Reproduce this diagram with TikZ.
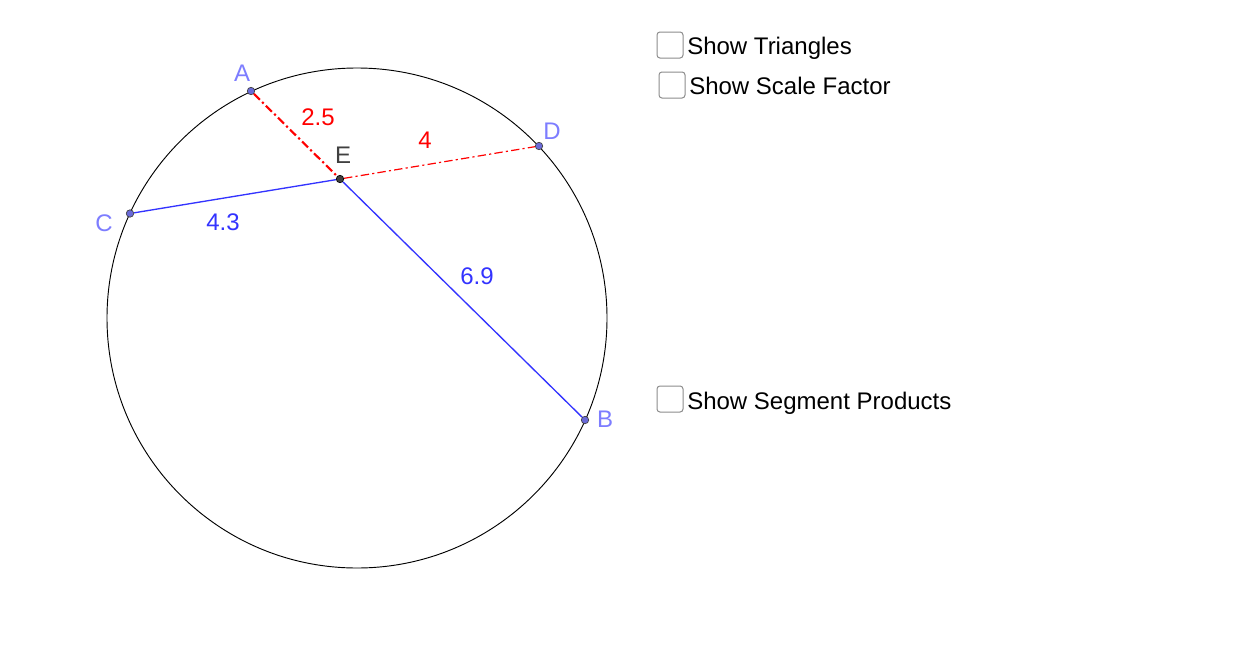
\documentclass[tikz,border=0pt]{standalone}
\usepackage{fontspec}
\setmainfont{Liberation Sans}
\usetikzlibrary{positioning}
\definecolor{ptblue}{HTML}{7D7DFF}
\definecolor{ptfill}{HTML}{6A6AD8}
\definecolor{segblue}{HTML}{3333FF}
\definecolor{ptdark}{HTML}{404040}
\definecolor{boxgray}{HTML}{8C8C8C}
\newcommand{\labelsize}{\fontsize{18}{20}\selectfont}
\tikzset{
  pt/.style={circle,draw=ptdark,line width=0.5pt,fill=ptfill,inner sep=0pt,minimum size=5.6pt},
  ptname/.style={text=ptblue,font=\labelsize,inner sep=0pt},
  seglabel/.style={font=\labelsize,inner sep=0pt},
  chkbox/.style={draw=boxgray,line width=0.75pt,rounded corners=2.2pt,minimum size=19.5pt,inner sep=0pt},
  chklabel/.style={font=\labelsize,inner sep=0pt,anchor=base west},
  bluesegment/.style={segblue,line width=1pt},
  redsegment/.style={red,line width=0.9pt,dash pattern=on 6.3pt off 2.4pt on 1.6pt off 2.4pt}
}
\begin{document}
\begin{tikzpicture}[x=0.75pt,y=-0.75pt]
  \useasboundingbox (0,0) rectangle (1241,671);
  \node[circle,draw=black,line width=0.7pt,minimum size=375pt,inner sep=0pt] (circ) at (357,318) {};

  \node[pt] (A) at (251,91) {};
  \node[pt] (B) at (585,420) {};
  \node[pt] (C) at (130,213.5) {};
  \node[pt] (D) at (539,146) {};
  \node[pt,fill=ptdark,draw=black] (E) at (340,179) {};

  % the two chords
  \path[draw,redsegment,line width=1.6pt] (A) -- (E);
  \path[draw,redsegment] (E) -- (D);
  \path[draw,bluesegment] (C) -- (E);
  \path[draw,bluesegment] (E) -- (B);

  \node[ptname] (nameA) at (242,73) {A};
  \node[ptname] (nameB) at (605,419) {B};
  \node[ptname] (nameC) at (104,223) {C};
  \node[ptname] (nameD) at (552,131) {D};
  \node[ptname,text=ptdark] (nameE) at (343,155) {E};

  \node[seglabel,text=red] (lenAE) at (318,117) {2.5};
  \node[seglabel,text=red] (lenDE) at (425,140) {4};
  \node[seglabel,text=segblue] (lenCE) at (223,222.5) {4.3};
  \node[seglabel,text=segblue] (lenBE) at (477,276.5) {6.9};

  \node[chkbox] (boxT) at (670,45) {};
  \node[chklabel] (textT) at (687,54) {Show Triangles};
  \node[chkbox] (boxF) at (672,85) {};
  \node[chklabel] (textF) at (689,94) {Show Scale Factor};
  \node[chkbox] (boxP) at (670,399) {};
  \node[chklabel] (textP) at (687,409) {Show Segment Products};
\end{tikzpicture}
\end{document}
